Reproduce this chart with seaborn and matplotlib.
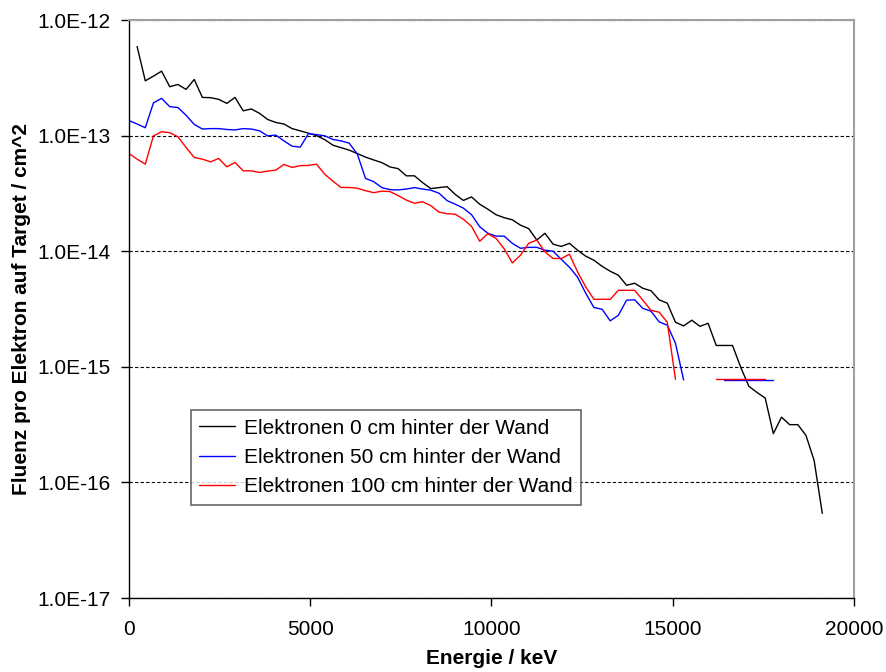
import numpy as np
import pandas as pd
import matplotlib
matplotlib.use("Agg")
import matplotlib.pyplot as plt
from matplotlib.lines import Line2D
from matplotlib.ticker import FixedLocator, FuncFormatter, NullLocator
import seaborn as sns

# Energiebins (keV), Breite
bin_breite = 225

# Elektronen 0 cm hinter der Wand (Bins 1..85)
fluenz_0cm = [
    5.9e-13, 2.98e-13, 3.27e-13, 3.61e-13, 2.65e-13, 2.77e-13, 2.51e-13, 3.06e-13,
    2.14e-13, 2.13e-13, 2.06e-13, 1.90e-13, 2.14e-13, 1.64e-13, 1.70e-13, 1.56e-13,
    1.38e-13, 1.30e-13, 1.26e-13, 1.15e-13, 1.10e-13, 1.05e-13, 1.00e-13, 9.23e-14,
    8.27e-14, 7.87e-14, 7.49e-14, 6.99e-14, 6.52e-14, 6.16e-14, 5.84e-14, 5.36e-14,
    5.18e-14, 4.49e-14, 4.49e-14, 3.92e-14, 3.48e-14, 3.55e-14, 3.62e-14, 3.10e-14,
    2.75e-14, 2.95e-14, 2.55e-14, 2.31e-14, 2.07e-14, 1.95e-14, 1.87e-14, 1.68e-14,
    1.57e-14, 1.25e-14, 1.43e-14, 1.15e-14, 1.10e-14, 1.17e-14, 1.02e-14, 9.06e-15,
    8.36e-15, 7.41e-15, 6.71e-15, 6.20e-15, 5.08e-15, 5.28e-15, 4.78e-15, 4.55e-15,
    3.80e-15, 3.55e-15, 2.43e-15, 2.26e-15, 2.53e-15, 2.24e-15, 2.38e-15, 1.53e-15,
    1.53e-15, 1.53e-15, 9.9e-16, 6.78e-16, 6.0e-16, 5.37e-16, 2.64e-16, 3.67e-16,
    3.16e-16, 3.16e-16, 2.55e-16, 1.55e-16, 5.4e-17,
]
bins_0cm = np.arange(1, 86)

# Elektronen 50 cm hinter der Wand (Bins 0..68, dann zwei Einzelwerte)
fluenz_50cm = [
    1.35e-13, 1.26e-13, 1.17e-13, 1.92e-13, 2.10e-13, 1.78e-13, 1.75e-13, 1.50e-13,
    1.25e-13, 1.14e-13, 1.15e-13, 1.15e-13, 1.13e-13, 1.12e-13, 1.15e-13, 1.14e-13,
    1.10e-13, 9.96e-14, 1.01e-13, 9.0e-14, 8.1e-14, 7.95e-14, 1.04e-13, 1.02e-13,
    9.96e-14, 9.27e-14, 9.0e-14, 8.61e-14, 6.92e-14, 4.26e-14, 4.0e-14, 3.55e-14,
    3.41e-14, 3.39e-14, 3.45e-14, 3.55e-14, 3.45e-14, 3.37e-14, 3.18e-14, 2.74e-14,
    2.55e-14, 2.36e-14, 2.07e-14, 1.63e-14, 1.43e-14, 1.35e-14, 1.35e-14, 1.17e-14,
    1.06e-14, 1.08e-14, 1.08e-14, 1.02e-14, 1.0e-14, 8.5e-15, 7.27e-15, 5.96e-15,
    4.33e-15, 3.26e-15, 3.15e-15, 2.5e-15, 2.79e-15, 3.77e-15, 3.8e-15, 3.2e-15,
    3.03e-15, 2.45e-15, 2.29e-15, 1.6e-15, 7.7e-16,
]
bins_50cm = np.arange(0, 69)
fluenz_50cm_rest = [7.64e-16, 7.64e-16]
bins_50cm_rest = [73, 79]

# Elektronen 100 cm hinter der Wand (Bins 0..67, dann zwei Einzelwerte)
fluenz_100cm = [
    7.0e-14, 6.26e-14, 5.66e-14, 9.96e-14, 1.08e-13, 1.06e-13, 9.77e-14, 7.9e-14,
    6.47e-14, 6.26e-14, 5.93e-14, 6.34e-14, 5.37e-14, 5.86e-14, 4.96e-14, 4.96e-14,
    4.8e-14, 4.93e-14, 5.03e-14, 5.63e-14, 5.31e-14, 5.5e-14, 5.52e-14, 5.66e-14,
    4.64e-14, 4.04e-14, 3.56e-14, 3.56e-14, 3.51e-14, 3.34e-14, 3.21e-14, 3.31e-14,
    3.28e-14, 3.03e-14, 2.77e-14, 2.6e-14, 2.68e-14, 2.48e-14, 2.18e-14, 2.11e-14,
    2.09e-14, 1.89e-14, 1.64e-14, 1.22e-14, 1.42e-14, 1.29e-14, 1.05e-14, 7.92e-15,
    9.23e-15, 1.17e-14, 1.25e-14, 9.86e-15, 8.65e-15, 8.65e-15, 9.42e-15, 6.62e-15,
    4.91e-15, 3.84e-15, 3.84e-15, 3.84e-15, 4.59e-15, 4.59e-15, 4.59e-15, 3.77e-15,
    3.08e-15, 2.97e-15, 2.43e-15, 7.8e-16,
]
bins_100cm = np.arange(0, 68)
fluenz_100cm_rest = [7.9e-16, 7.9e-16]
bins_100cm_rest = [72, 78]

reihen = ["Elektronen 0 cm hinter der Wand",
          "Elektronen 50 cm hinter der Wand",
          "Elektronen 100 cm hinter der Wand"]
farben = ["#000000", "#0000ff", "#ff0000"]
y_ticks = [1e-17, 1e-16, 1e-15, 1e-14, 1e-13, 1e-12]
x_ticks = [0, 5000, 10000, 15000, 20000]

# long-form Tabelle, segment trennt die Luecken
teile = []
for name, b, f, seg in [
    (reihen[0], bins_0cm, fluenz_0cm, 0),
    (reihen[1], bins_50cm, fluenz_50cm, 0),
    (reihen[1], bins_50cm_rest, fluenz_50cm_rest, 1),
    (reihen[2], bins_100cm, fluenz_100cm, 0),
    (reihen[2], bins_100cm_rest, fluenz_100cm_rest, 1),
]:
    teile.append(pd.DataFrame({
        "energie": np.asarray(b) * bin_breite,
        "fluenz": f,
        "reihe": name,
        "segment": seg,
    }))
df = pd.concat(teile, ignore_index=True)

sns.set_style("white")
plt.rcParams["font.family"] = ["Liberation Sans", "DejaVu Sans"]
plt.rcParams["text.color"] = "black"
plt.rcParams["axes.labelcolor"] = "black"

fs = 15

fig = plt.figure(figsize=(8.87, 6.72), dpi=100)
ax = fig.add_axes([0.1454, 0.1101, 0.8174, 0.8601])

sns.lineplot(data=df, x="energie", y="fluenz", hue="reihe", units="segment",
             estimator=None, sort=False, palette=dict(zip(reihen, farben)),
             linewidth=1.0, legend=False, ax=ax)

ax.set_yscale("log")
ax.set_ylim(1e-17, 1e-12)
ax.set_xlim(0, 20000)
ax.yaxis.set_major_locator(FixedLocator(y_ticks))
ax.yaxis.set_minor_locator(NullLocator())
ax.yaxis.set_major_formatter(FuncFormatter(lambda v, p: format(v, ".1E")))
ax.set_xticks(x_ticks)

ax.yaxis.grid(True, which="major", color="black", linestyle=(0, (3, 2)), linewidth=0.8)
ax.set_axisbelow(True)

for s in ["left", "bottom"]:
    ax.spines[s].set_color("black")
    ax.spines[s].set_linewidth(1.0)
for s in ["top", "right"]:
    ax.spines[s].set_visible(True)
    ax.spines[s].set_color("#a0a0a0")
    ax.spines[s].set_linewidth(1.5)

ax.tick_params(axis="both", direction="out", length=6, width=1, color="black",
               labelsize=fs, labelcolor="black")
ax.tick_params(axis="x", pad=10, bottom=True)
ax.tick_params(axis="y", pad=7, left=True)

ax.set_xlabel("Energie / keV", fontsize=fs, fontweight="bold", labelpad=7)
ax.set_ylabel("Fluenz pro Elektron auf Target / cm^2", fontsize=fs,
              fontweight="bold", labelpad=5)

handles = [Line2D([], [], color=c, lw=1.0) for c in farben]
leg = ax.legend(handles, reihen, loc="upper left", bbox_to_anchor=(0.085, 0.325),
                borderaxespad=0, fontsize=fs, frameon=True, fancybox=False,
                handlelength=1.75, handletextpad=0.4, labelspacing=0.5,
                borderpad=0.4)
leg.get_frame().set_edgecolor("#404040")
leg.get_frame().set_linewidth(1.2)
for t in leg.get_texts():
    t.set_color("black")

fig.savefig("out.png", dpi=100)
